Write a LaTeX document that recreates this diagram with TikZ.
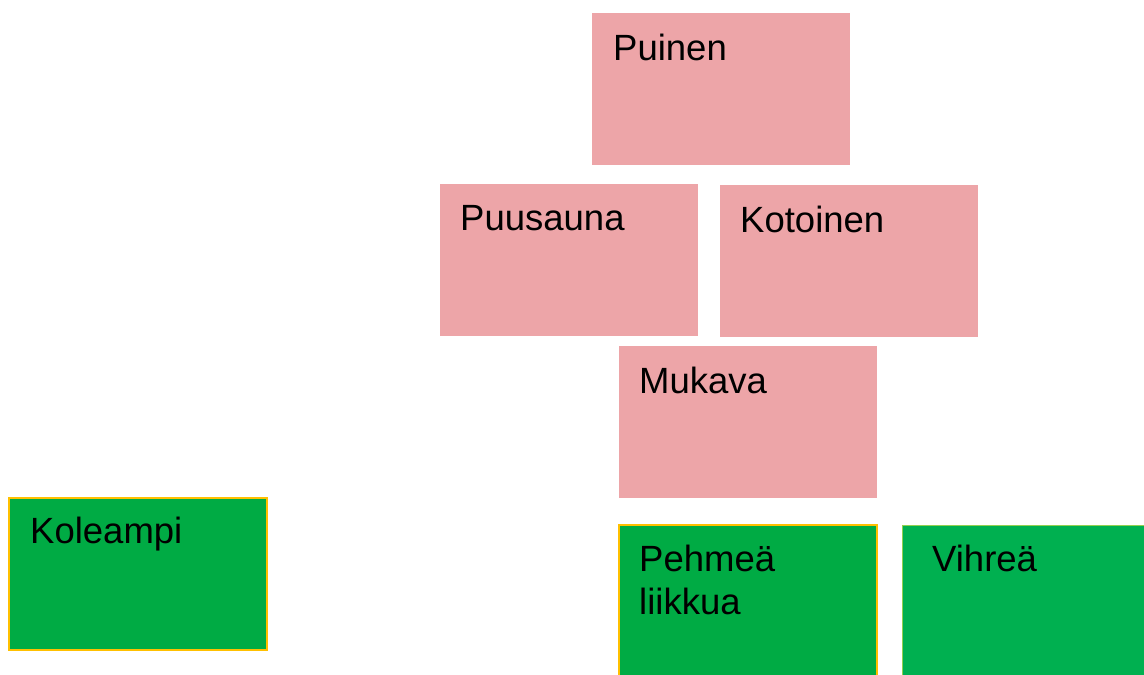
\documentclass[tikz,border=0pt]{standalone}
\usepackage{fontspec}
\setmainfont{Liberation Sans}
\usetikzlibrary{positioning}
\definecolor{pinkbox}{HTML}{EDA5A8}
\definecolor{greenbox}{HTML}{00AB44}
\definecolor{greenlite}{HTML}{00B050}
\definecolor{orangeline}{HTML}{FFC000}
\definecolor{limeline}{HTML}{92D050}

\begin{document}
\begin{tikzpicture}[x=1pt, y=-1pt,
        card/.style={anchor=north west, minimum width=258pt, minimum height=152pt, inner sep=0pt, outer sep=0pt},
        pinkcard/.style={card, fill=pinkbox},
        greencard/.style={card, fill=greenbox, draw=orangeline, line width=1.5pt},
        limecard/.style={card, fill=greenlite, draw=limeline, line width=1pt},
        cardtext/.style={inner sep=0pt, align=left, font=\fontsize{36.5}{43}\selectfont}]
                \clip (0,0) rectangle (1144,675);
                % pink cards
                \node [pinkcard] (puinen) at (592,13) {};
                \node [pinkcard] (puusauna) at (440,184) {};
                \node [pinkcard] (kotoinen) at (720,185) {};
                \node [pinkcard] (mukava) at (619,346) {};
                % green cards
                \node [greencard] (koleampi) at (9,498) {};
                \node [greencard] (pehmea) at (619,525) {};
                \node [limecard] (vihrea) at (902,525) {};
                % texts
                \node [cardtext, below right = 21pt and 21pt of puinen.north west] (puinen-t) {Puinen};
                \node [cardtext, below right = 21pt and 20pt of puusauna.north west] (puusauna-t) {Puusauna};
                \node [cardtext, below right = 21pt and 20pt of kotoinen.north west] (kotoinen-t) {Kotoinen};
                \node [cardtext, below right = 21pt and 20pt of mukava.north west] (mukava-t) {Mukava};
                \node [cardtext, below right = 19pt and 21pt of koleampi.north west] (koleampi-t) {Koleampi};
                \node [cardtext, below right = 20pt and 20pt of pehmea.north west] (pehmea-t) {Pehmeä\\liikkua};
                \node [cardtext, below right = 20pt and 30pt of vihrea.north west] (vihrea-t) {Vihreä};
            \end{tikzpicture}
\end{document}
